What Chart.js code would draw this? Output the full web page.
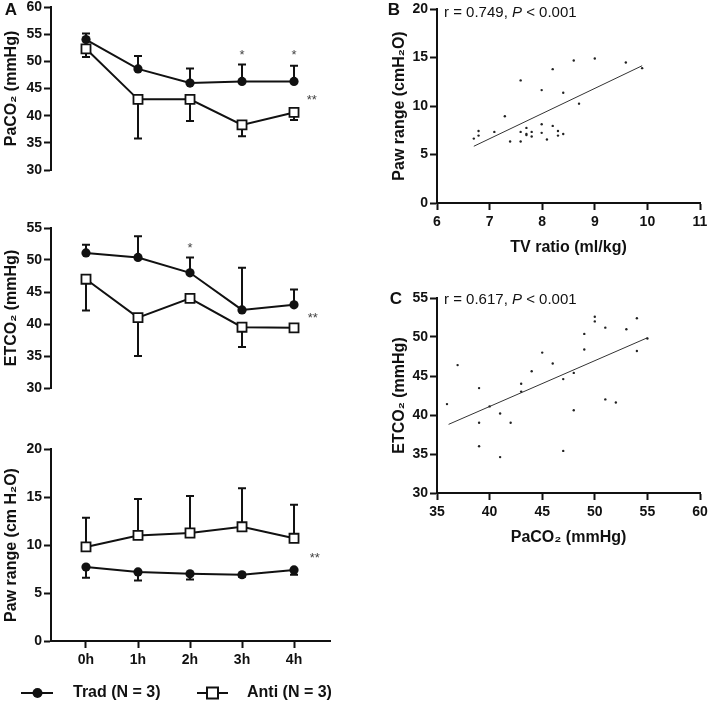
<!DOCTYPE html>
<html>
<head>
<meta charset="utf-8">
<script src="https://cdn.jsdelivr.net/npm/chart.js@4.4.0/dist/chart.umd.min.js"></script>
<style>
  body { margin: 0; background: #fff; width: 709px; height: 703px; position: relative; overflow: hidden; }
  canvas { position: absolute; }
</style>
</head>
<body>
<canvas id="paco2" width="350" height="233" style="left:0;top:-13px"></canvas>
<canvas id="etco2" width="350" height="230" style="left:0;top:208px"></canvas>
<canvas id="paw" width="350" height="274" style="left:0;top:429px"></canvas>
<canvas id="scatterB" width="360" height="281" style="left:360px;top:-11px"></canvas>
<canvas id="scatterC" width="360" height="282" style="left:360px;top:278px"></canvas>
<script>
// panel A: time course, mean with one-sided SD
const timeLabels = ['0h', '1h', '2h', '3h', '4h'];

const tradPaco2 = [54.0, 48.6, 46.0, 46.3, 46.3];
const tradPaco2Sd = [1.1, 2.4, 2.7, 3.1, 2.9];
const antiPaco2 = [52.3, 43.0, 43.0, 38.3, 40.6];
const antiPaco2Sd = [1.5, 7.2, 4.0, 2.1, 1.4];

const tradEtco2 = [51.1, 50.4, 48.0, 42.2, 43.0];
const tradEtco2Sd = [1.3, 3.3, 2.4, 6.6, 2.4];
const antiEtco2 = [47.0, 41.0, 44.0, 39.5, 39.4];
const antiEtco2Sd = [4.9, 6.0, 0, 3.1, 0.4];

const tradPaw = [7.7, 7.2, 7.0, 6.9, 7.4];
const tradPawSd = [1.1, 0.9, 0.6, 0.2, 0.5];
const antiPaw = [9.8, 11.0, 11.25, 11.9, 10.7];
const antiPawSd = [3.05, 3.8, 3.85, 4.0, 3.5];

// significance marks [text, time, value]
const starsPaco2 = [['*', 3, 51.0], ['*', 4, 51.0], ['**', 4.34, 42.75]];
const starsEtco2 = [['*', 2, 51.8], ['**', 4.36, 40.8]];
const starsPaw = [['**', 4.4, 8.65]];

// panel B: TV ratio vs Paw range
const tvRatio = [6.70, 6.79, 6.79, 7.09, 7.29, 7.39, 7.59, 7.59, 7.59, 7.70, 7.70, 7.70, 7.80, 7.80,
  7.99, 7.99, 7.99, 8.09, 8.20, 8.20, 8.30, 8.30, 8.40, 8.40, 8.60, 8.70, 9.00, 9.59, 9.90];
const pawRange = [6.64, 7.43, 6.95, 7.33, 8.94, 6.34, 12.64, 7.33, 6.34, 7.74, 7.12, 7.0, 7.33, 6.85,
  11.64, 8.12, 7.23, 6.54, 13.80, 7.95, 7.43, 6.95, 11.37, 7.12, 14.69, 10.24, 14.90, 14.49, 13.90];
const fitBx = [6.7, 9.9];
const fitBy = [5.85, 14.15];

// panel C: PaCO2 vs ETCO2
const paco2All = [35.95, 36.96, 39.0, 39.0, 39.0, 40.0, 41.0, 41.0, 42.0, 43.0, 43.0, 44.0, 45.0, 46.0,
  47.0, 47.0, 48.0, 48.0, 49.0, 49.0, 50.0, 50.0, 51.0, 51.0, 52.0, 53.0, 54.0, 54.0, 55.0];
const etco2All = [41.4, 46.4, 43.45, 39.0, 36.0, 41.1, 40.2, 34.6, 39.0, 44.0, 43.0, 45.6, 48.0, 46.6,
  44.6, 35.4, 45.4, 40.6, 50.4, 48.4, 52.6, 52.0, 51.2, 42.0, 41.6, 51.0, 52.4, 48.2, 49.8];
const fitCx = [36.1, 55.0];
const fitCy = [38.8, 49.9];

Chart.defaults.font.family = '"Liberation Sans", Arial, Helvetica, sans-serif';
Chart.defaults.color = '#111';
Chart.defaults.animation = false;

const INK = '#111';

function yAxis(min, max, title, width, titlePad) {
  return {
    min: min, max: max,
    ticks: { stepSize: 5, color: INK, font: { size: 14, weight: 'bold' }, padding: 2 },
    grid: { drawOnChartArea: false, drawTicks: true, tickLength: 7, tickWidth: 2, tickColor: INK },
    border: { display: true, color: INK, width: 2 },
    title: { display: true, text: title, color: INK, font: { size: 16, weight: 'bold' }, padding: { top: titlePad, bottom: 0 } },
    afterFit: function (s) { s.width = width; }
  };
}

function timeAxis(show) {
  return {
    type: 'linear', min: -0.673, max: 4.692, display: show,
    afterBuildTicks: function (s) { s.ticks = timeLabels.map(function (_, i) { return { value: i }; }); },
    ticks: {
      callback: function (v) { return timeLabels[v]; },
      autoSkip: false, maxRotation: 0, color: INK, font: { size: 14, weight: 'bold' }, padding: 4
    },
    grid: { drawOnChartArea: false, drawTicks: true, tickLength: 7, tickWidth: 2, tickColor: INK },
    border: { display: true, color: INK, width: 2 },
    afterFit: function (s) { s.height = 30; }
  };
}

function valueAxis(min, max, step, title) {
  return {
    type: 'linear', min: min, max: max,
    ticks: { stepSize: step, color: INK, font: { size: 14, weight: 'bold' }, padding: 4 },
    grid: { drawOnChartArea: false, drawTicks: true, tickLength: 7, tickWidth: 2, tickColor: INK },
    border: { display: true, color: INK, width: 2 },
    title: { display: true, text: title, color: INK, font: { size: 16, weight: 'bold' }, padding: { top: 0, bottom: 8 } },
    afterFit: function (s) { s.height = 62; }
  };
}

function trad(values, sd, dir) {
  return {
    label: 'Trad (N = 3)',
    data: values.map(function (v, i) { return { x: i, y: v }; }),
    sd: sd, sdDir: dir,
    borderColor: INK, borderWidth: 2,
    pointStyle: 'circle', pointRadius: 4.6, pointBackgroundColor: INK, pointBorderColor: INK, pointBorderWidth: 0
  };
}

function anti(values, sd, dir) {
  return {
    label: 'Anti (N = 3)',
    data: values.map(function (v, i) { return { x: i, y: v }; }),
    sd: sd, sdDir: dir,
    borderColor: INK, borderWidth: 2,
    pointStyle: 'rect', pointRadius: 6.4, pointBackgroundColor: '#fff', pointBorderColor: INK, pointBorderWidth: 1.8
  };
}

// one-sided SD bars, drawn under the markers
const errorBars = {
  id: 'errorBars',
  beforeDatasetsDraw: function (chart) {
    const ctx = chart.ctx, x = chart.scales.x, y = chart.scales.y;
    ctx.save();
    ctx.strokeStyle = INK;
    ctx.lineWidth = 2;
    chart.data.datasets.forEach(function (ds) {
      if (!ds.sd) return;
      ds.data.forEach(function (p, i) {
        const e = ds.sd[i];
        if (!e) return;
        const px = x.getPixelForValue(p.x);
        const y0 = y.getPixelForValue(p.y);
        const y1 = y.getPixelForValue(p.y + ds.sdDir * e);
        ctx.beginPath();
        ctx.moveTo(px, y0); ctx.lineTo(px, y1);
        ctx.moveTo(px - 4, y1); ctx.lineTo(px + 4, y1);
        ctx.stroke();
      });
    });
    ctx.restore();
  }
};

function notes(cfg) {
  return {
    id: 'notes',
    afterDraw: function (chart) {
      const ctx = chart.ctx, x = chart.scales.x, y = chart.scales.y, a = chart.chartArea;
      ctx.save();
      ctx.fillStyle = INK;
      ctx.textBaseline = 'middle';
      (cfg.stars || []).forEach(function (s) {
        ctx.font = '13px "Liberation Sans", Arial, sans-serif';
        ctx.fillStyle = '#444';
        ctx.textAlign = 'center';
        ctx.fillText(s[0], x.getPixelForValue(s[1]), y.getPixelForValue(s[2]));
      });
      ctx.fillStyle = INK;
      if (cfg.letter) {
        ctx.font = 'bold 17px "Liberation Sans", Arial, sans-serif';
        ctx.textAlign = 'center';
        ctx.fillText(cfg.letter[0], cfg.letter[1], cfg.letter[2]);
      }
      if (cfg.stat) {
        ctx.textAlign = 'left';
        let px = a.left + 7;
        const py = a.top + cfg.stat[1];
        const parts = [['r = ' + cfg.stat[0] + ', ', ''], ['P', 'italic '], [' < 0.001', '']];
        parts.forEach(function (pt) {
          ctx.font = pt[1] + '15px "Liberation Sans", Arial, sans-serif';
          ctx.fillText(pt[0], px, py);
          px += ctx.measureText(pt[0]).width;
        });
      }
      if (cfg.legend) {
        const ly = cfg.legend;
        ctx.lineWidth = 2;
        ctx.strokeStyle = INK;
        ctx.beginPath(); ctx.moveTo(21, ly); ctx.lineTo(53, ly); ctx.stroke();
        ctx.beginPath(); ctx.arc(37.5, ly, 5, 0, Math.PI * 2); ctx.fill();
        ctx.beginPath(); ctx.moveTo(197, ly); ctx.lineTo(228, ly); ctx.stroke();
        ctx.fillStyle = '#fff';
        ctx.fillRect(207, ly - 5.5, 11, 11);
        ctx.strokeRect(207, ly - 5.5, 11, 11);
        ctx.fillStyle = INK;
        ctx.font = 'bold 16px "Liberation Sans", Arial, sans-serif';
        ctx.textAlign = 'left';
        ctx.fillText(chart.data.datasets[0].label, 73, ly);
        ctx.fillText(chart.data.datasets[1].label, 247, ly);
      }
      ctx.restore();
    }
  };
}

const basePlugins = { legend: { display: false }, tooltip: { enabled: false } };

function timeChart(id, datasets, ymin, ymax, title, pad, showX, extra) {
  return new Chart(document.getElementById(id), {
    type: 'line',
    data: { datasets: datasets },
    options: {
      responsive: false,
      devicePixelRatio: 1,
      layout: { padding: pad },
      scales: { x: timeAxis(showX), y: yAxis(ymin, ymax, title, 51, 2) },
      plugins: basePlugins
    },
    plugins: [errorBars, notes(extra)]
  });
}

timeChart('paco2',
  [trad(tradPaco2, tradPaco2Sd, 1), anti(antiPaco2, antiPaco2Sd, -1)],
  30, 60, 'PaCO\u2082 (mmHg)', { left: 0, top: 20, right: 20, bottom: 20 }, false,
  { stars: starsPaco2, letter: ['A', 11, 23] });

timeChart('etco2',
  [trad(tradEtco2, tradEtco2Sd, 1), anti(antiEtco2, antiEtco2Sd, -1)],
  30, 55, 'ETCO\u2082 (mmHg)', { left: 0, top: 20, right: 20, bottom: 20 }, false,
  { stars: starsEtco2 });

timeChart('paw',
  [trad(tradPaw, tradPawSd, -1), anti(antiPaw, antiPawSd, 1)],
  0, 20, 'Paw range (cm H\u2082O)', { left: 0, top: 20, right: 20, bottom: 32 }, true,
  { stars: starsPaw, legend: 264 });

function scatterChart(id, xs, ys, fx, fy, xAxis, yAx, extra) {
  return new Chart(document.getElementById(id), {
    type: 'scatter',
    data: {
      datasets: [
        {
          data: xs.map(function (v, i) { return { x: v, y: ys[i] }; }),
          pointRadius: 1.2, pointBackgroundColor: '#222', pointBorderWidth: 0
        },
        {
          data: fx.map(function (v, i) { return { x: v, y: fy[i] }; }),
          showLine: true, borderColor: '#333', borderWidth: 1, pointRadius: 0
        }
      ]
    },
    options: {
      responsive: false,
      devicePixelRatio: 1,
      layout: { padding: { left: 0, top: 20, right: 20, bottom: 5 } },
      scales: { x: xAxis, y: yAx },
      plugins: basePlugins
    },
    plugins: [notes(extra)]
  });
}

scatterChart('scatterB', tvRatio, pawRange, fitBx, fitBy,
  valueAxis(6, 11, 1, 'TV ratio (ml/kg)'),
  yAxis(0, 20, 'Paw range (cmH\u2082O)', 77, 30),
  { letter: ['B', 34, 21], stat: ['0.749', 4] });

scatterChart('scatterC', paco2All, etco2All, fitCx, fitCy,
  valueAxis(35, 60, 5, 'PaCO\u2082 (mmHg)'),
  yAxis(30, 55, 'ETCO\u2082 (mmHg)', 77, 30),
  { letter: ['C', 36, 21], stat: ['0.617', 2] });
</script>
</body>
</html>
